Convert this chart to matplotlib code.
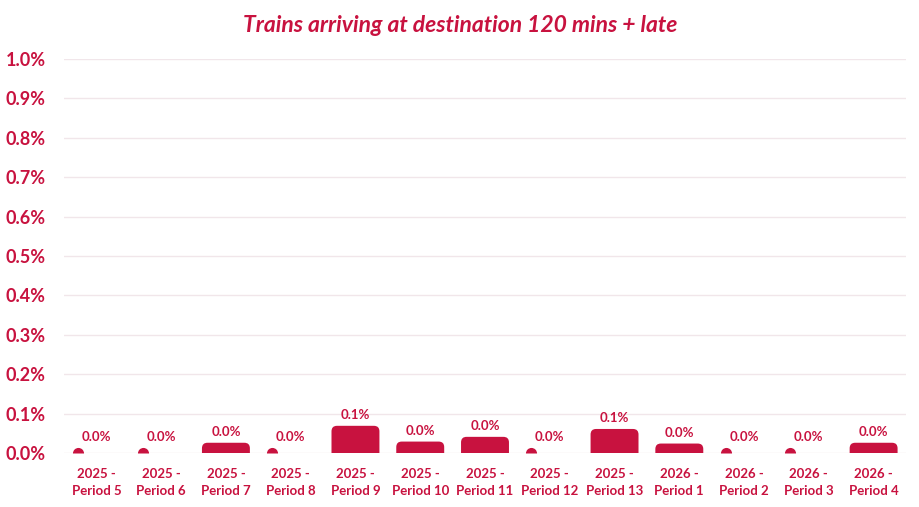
import matplotlib
matplotlib.use("Agg")
import matplotlib.pyplot as plt
from matplotlib.patches import FancyBboxPatch
from matplotlib.ticker import FuncFormatter, MultipleLocator

categories = ["2025 -\nPeriod 5", "2025 -\nPeriod 6", "2025 -\nPeriod 7", "2025 -\nPeriod 8",
              "2025 -\nPeriod 9", "2025 -\nPeriod 10", "2025 -\nPeriod 11", "2025 -\nPeriod 12",
              "2025 -\nPeriod 13", "2026 -\nPeriod 1", "2026 -\nPeriod 2", "2026 -\nPeriod 3",
              "2026 -\nPeriod 4"]
values = [0.0, 0.0, 0.026, 0.0, 0.069, 0.029, 0.041, 0.0, 0.061, 0.024, 0.0, 0.0, 0.026]

title = "Trains arriving at destination 120 mins + late"
RED = "#C8123F"
GRID = "#F1E6EA"
FONT = "Lato"

W, H, DPI = 920, 507, 100
fig = plt.figure(figsize=(W / DPI, H / DPI), dpi=DPI)
left_px, right_px, top_px, bot_px = 64, 906, 59, 453
ax = fig.add_axes([left_px / W, 1 - bot_px / H, (right_px - left_px) / W, (bot_px - top_px) / H])

n = len(categories)
ax.set_xlim(-0.5, n - 0.5)
ax.set_ylim(0, 1.0)

# pixel scales
px_x = (n) / (right_px - left_px)        # x data units per pixel
px_y = 1.0 / (bot_px - top_px)           # y data units per pixel
r_px = 5.5
rx = r_px * px_x
ry = r_px * px_y
bw = 0.74

for i, v in enumerate(values):
    if v > 0:
        box = FancyBboxPatch((i - bw / 2, -ry), bw, v + ry,
                             boxstyle=f"round,pad=0,rounding_size={rx}",
                             mutation_aspect=px_y / px_x,
                             facecolor=RED, edgecolor="none", zorder=3)
        ax.add_patch(box)
        off = 3.4
    else:
        ax.plot([i - bw / 2 + rx], [0], marker="o", markersize=8, fillstyle="top",
                markerfacecolor=RED, markerfacecoloralt="none", markeredgewidth=0,
                linestyle="none", zorder=3, clip_on=False)
        off = 7.0
    ax.annotate(f"{v:.1f}%", (i, v), xytext=(0, off), textcoords="offset points",
                ha="center", va="bottom", fontsize=9.5, fontweight="bold",
                color=RED, family=FONT, zorder=4)

ax.yaxis.set_major_locator(MultipleLocator(0.1))
ax.yaxis.set_major_formatter(FuncFormatter(lambda y, p: f"{y:.1f}%"))
ax.grid(axis="y", color=GRID, linewidth=1, zorder=0)
ax.set_axisbelow(True)
ax.set_xticks(range(n))
ax.set_xticklabels(categories, linespacing=1.5)
for lab in ax.get_xticklabels():
    lab.set_fontsize(9.5)
    lab.set_fontweight("bold")
    lab.set_color(RED)
    lab.set_family(FONT)
for lab in ax.get_yticklabels():
    lab.set_fontsize(13)
    lab.set_fontweight("bold")
    lab.set_color(RED)
    lab.set_family(FONT)
ax.tick_params(axis="both", length=0)
ax.tick_params(axis="y", pad=13)
ax.tick_params(axis="x", pad=10.5)
for s in ax.spines.values():
    s.set_visible(False)

fig.text(0.5, 1 - 25 / H, title, ha="center", va="center", fontsize=16.5,
         fontweight="bold", fontstyle="italic", color=RED, family=FONT)

fig.savefig("out.png", dpi=DPI, facecolor="white")
